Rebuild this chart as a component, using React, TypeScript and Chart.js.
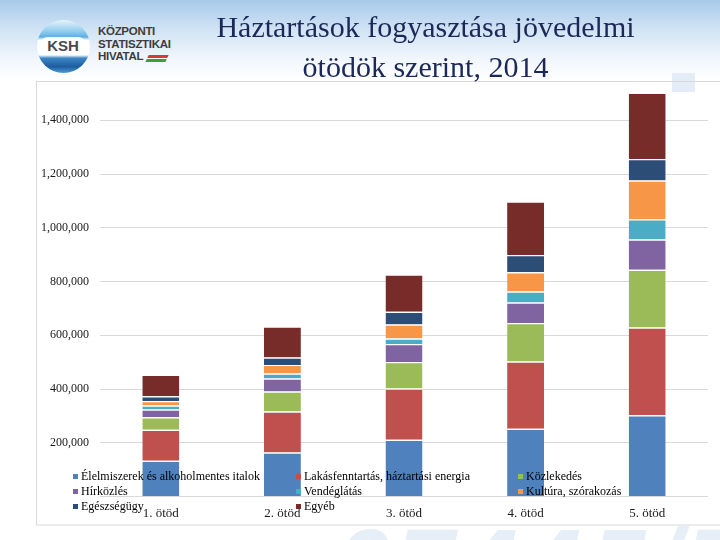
import React, { useEffect, useRef } from "react";
import { Chart, registerables } from "chart.js";

Chart.register(...registerables);

const categories = ["1. ötöd", "2. ötöd", "3. ötöd", "4. ötöd", "5. ötöd"];

const seriesNames = [
  "Élelmiszerek és alkoholmentes italok",
  "Lakásfenntartás, háztartási energia",
  "Közlekedés",
  "Hírközlés",
  "Vendéglátás",
  "Kultúra, szórakozás",
  "Egészségügy",
  "Egyéb",
];

const seriesColors = [
  "#4F81BD",
  "#C0504D",
  "#9BBB59",
  "#8064A2",
  "#4BACC6",
  "#F79646",
  "#2C4D75",
  "#772C2A",
];

const elelmiszer = [133000, 164000, 211000, 252000, 302000];
const lakas = [115000, 152000, 191000, 250000, 327000];
const kozlekedes = [46600, 74500, 98000, 143000, 215000];
const hirkozles = [28700, 48500, 67000, 77000, 112500];
const vendeglatas = [15000, 18600, 21000, 41000, 74500];
const kultura = [16800, 32000, 52000, 71000, 145000];
const egeszsegugy = [18000, 27600, 47000, 64500, 79500];
const egyeb = [79400, 115500, 139000, 199000, 247000];

const seriesValues = [
  elelmiszer,
  lakas,
  kozlekedes,
  hirkozles,
  vendeglatas,
  kultura,
  egeszsegugy,
  egyeb,
];

const yMax = 1600000;
const yStep = 200000;

const SERIF = "'Liberation Serif', 'Times New Roman', serif";

const framePlugin = {
  id: "frameAndLegend",
  beforeDraw(chart: any) {
    const ctx = chart.ctx;
    ctx.save();
    ctx.strokeStyle = "#D9D9D9";
    ctx.lineWidth = 1;
    ctx.strokeRect(36.5, 81.5, 700, 443.5);
    ctx.restore();
  },
  afterDraw(chart: any) {
    const ctx = chart.ctx;
    const colX = [73, 296, 518];
    const rowY = [476.5, 491.5, 506.5];
    ctx.save();
    ctx.font = `12px ${SERIF}`;
    ctx.textBaseline = "middle";
    ctx.textAlign = "left";
    chart.data.datasets.forEach((ds: any, i: number) => {
      const col = i % 3;
      const row = Math.floor(i / 3);
      const x = colX[col];
      const y = rowY[row];
      ctx.fillStyle = ds.backgroundColor;
      ctx.fillRect(x, y - 2.5, 5, 5);
      ctx.fillStyle = "#000000";
      ctx.fillText(ds.label, x + 8, y);
    });
    ctx.restore();
  },
};

function ChartCanvas() {
  const ref = useRef<HTMLCanvasElement | null>(null);
  useEffect(() => {
    if (!ref.current) return;
    const chart = new Chart(ref.current, {
      type: "bar",
      data: {
        labels: categories,
        datasets: seriesNames.map((name, i) => ({
          label: name,
          data: seriesValues[i],
          backgroundColor: seriesColors[i],
          borderColor: "#FFFFFF",
          borderWidth: { top: 1.2, left: 0, right: 0, bottom: 0 },
          borderSkipped: false,
          categoryPercentage: 1,
          barPercentage: 0.304,
        })),
      },
      options: {
        responsive: false,
        animation: false,
        layout: { padding: { left: 0, right: 12, top: 66.5, bottom: 0 } },
        plugins: {
          legend: { display: false },
          tooltip: { enabled: false },
          title: { display: false },
        },
        scales: {
          x: {
            stacked: true,
            grid: { display: false },
            border: { display: false },
            ticks: {
              color: "#1a1a1a",
              font: { family: SERIF, size: 13 },
              padding: 1,
              maxRotation: 0,
            },
            afterFit(scale: any) {
              scale.height = 43.5;
            },
          },
          y: {
            stacked: true,
            min: 0,
            max: yMax,
            border: { display: false },
            grid: {
              drawTicks: false,
              color: (c: any) =>
                c.tick && c.tick.value === yMax ? "rgba(0,0,0,0)" : "#D9D9D9",
              lineWidth: 1,
            },
            ticks: {
              stepSize: yStep,
              padding: 11,
              color: "#1a1a1a",
              font: { family: SERIF, size: 12 },
              callback: (v: any) =>
                v === 0 || v === yMax ? "" : Number(v).toLocaleString("en-US"),
            },
            afterFit(scale: any) {
              scale.width = 100;
            },
          },
        },
      },
      plugins: [framePlugin],
    } as any);
    return () => chart.destroy();
  }, []);
  return (
    <canvas
      ref={ref}
      width={720}
      height={540}
      style={{ position: "absolute", left: 0, top: 0, width: 720, height: 540 }}
    />
  );
}

export default function App() {
  return (
    <div
      style={{
        position: "absolute",
        left: 0,
        top: 0,
        width: 720,
        height: 540,
        overflow: "hidden",
        background: "#FFFFFF",
      }}
    >
      <div
        style={{
          position: "absolute",
          left: 0,
          top: 0,
          width: 720,
          height: 80,
          background:
            "linear-gradient(to bottom, #A7CAEA 0%, #CFE2F4 35%, #F2F7FC 75%, #FFFFFF 100%)",
        }}
      />
      <div
        style={{
          position: "absolute",
          left: 672,
          top: 73,
          width: 23,
          height: 19,
          background: "#E3ECF7",
        }}
      />
      <div
        style={{
          position: "absolute",
          left: 335,
          top: 514,
          fontFamily: "'Liberation Sans', Arial, sans-serif",
          fontWeight: "bold",
          fontStyle: "italic",
          fontSize: 100,
          lineHeight: "100px",
          letterSpacing: 8,
          color: "#E6EEF8",
          whiteSpace: "nowrap",
        }}
      >
        07445/76
      </div>
      {/* logo */}
      <div
        style={{
          position: "absolute",
          left: 37,
          top: 20,
          width: 53,
          height: 53,
          borderRadius: "50%",
          background:
            "linear-gradient(to bottom, #E6F4FC 0%, #8FCBEE 22%, #5EAEE0 32%, #FFFFFF 38%, #FFFFFF 66%, #3C86C6 72%, #1E5D9E 88%, #4F9AD6 100%)",
        }}
      />
      <div
        style={{
          position: "absolute",
          left: 39,
          top: 37,
          width: 48,
          height: 18,
          borderRadius: 9,
          background: "#FFFFFF",
          textAlign: "center",
          fontFamily: "'Liberation Sans', Arial, sans-serif",
          fontWeight: "bold",
          fontSize: 15,
          lineHeight: "18px",
          color: "#4A4A4A",
        }}
      >
        KSH
      </div>
      <div
        style={{
          position: "absolute",
          left: 98,
          top: 25,
          fontFamily: "'Liberation Sans Narrow', 'Liberation Sans', Arial, sans-serif",
          fontWeight: "bold",
          fontSize: 11.5,
          lineHeight: "12.5px",
          letterSpacing: -0.3,
          color: "#3C3C3C",
        }}
      >
        <div>KÖZPONTI</div>
        <div>STATISZTIKAI</div>
        <div>HIVATAL</div>
      </div>
      <div
        style={{
          position: "absolute",
          left: 147,
          top: 55,
          width: 20,
          height: 7,
          transform: "skewX(-25deg)",
          background:
            "linear-gradient(to bottom, #D93A2F 0%, #D93A2F 40%, #FFFFFF 40%, #FFFFFF 55%, #3F9B3F 55%, #3F9B3F 100%)",
        }}
      />
      <ChartCanvas />
      <div
        style={{
          position: "absolute",
          left: 190,
          top: 7,
          width: 471,
          textAlign: "center",
          fontFamily: SERIF,
          fontSize: 30,
          lineHeight: "40px",
          color: "#1B2858",
        }}
      >
        <div>Háztartások fogyasztása jövedelmi</div>
        <div>ötödök szerint, 2014</div>
      </div>
    </div>
  );
}
